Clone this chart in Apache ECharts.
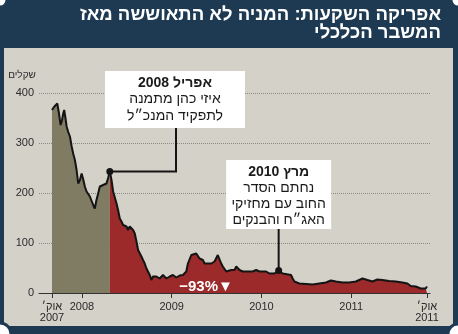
<!DOCTYPE html>
<html><head><meta charset="utf-8">
<script src="https://cdn.jsdelivr.net/npm/echarts@6/dist/echarts.min.js"></script>
<style>html,body{margin:0;padding:0;background:#fff}#c{width:458px;height:334px}</style>
</head><body><div id="c"></div>
<script>
// ---- data ----
const titleLines = ['אפריקה השקעות: המניה לא התאוששה מאז', 'המשבר הכלכלי'];
const unitLabel = 'שקלים';
const changeLabel = '−93%▼';
const dates = [
  2007.667,2007.689,2007.711,2007.726,2007.744,2007.763,2007.778,2007.792,2007.803,2007.817,
  2007.830,2007.848,2007.867,2007.886,2007.903,2007.922,2007.941,2007.959,2007.978,2007.997,
  2008.014,2008.033,2008.052,2008.070,2008.089,2008.103,2008.126,2008.144,2008.161,2008.181,
  2008.200,2008.214,2008.237,2008.256,2008.274,2008.292,2008.311,
  2008.330,2008.348,2008.367,2008.386,2008.403,2008.422,2008.441,2008.459,2008.478,2008.497,
  2008.514,2008.533,2008.552,2008.570,2008.589,2008.608,2008.626,2008.644,2008.663,2008.681,
  2008.700,2008.719,2008.737,2008.756,2008.774,2008.792,2008.811,2008.830,2008.867,2008.903,
  2008.941,2008.978,2009.014,2009.052,2009.089,2009.126,2009.163,2009.181,2009.200,2009.219,
  2009.237,2009.274,2009.292,2009.311,2009.330,2009.348,2009.367,2009.386,2009.403,2009.422,
  2009.441,2009.478,2009.514,2009.533,2009.552,2009.570,2009.608,2009.626,2009.663,2009.700,
  2009.719,2009.737,2009.756,2009.792,2009.830,2009.903,2009.941,2009.978,2010.014,2010.052,
  2010.089,2010.144,2010.192,2010.237,2010.330,2010.348,2010.367,2010.422,2010.497,2010.570,
  2010.644,2010.719,2010.774,2010.830,2010.903,2010.978,2011.052,2011.126,2011.181,2011.237,
  2011.292,2011.348,2011.422,2011.497,2011.570,2011.626,2011.663,2011.719,2011.774,2011.830,
  2011.844
];
const prices = [
  366,372,376,379,360,336,345,359,366,350,
  333,322,313,293,279,266,246,219,226,239,
  228,213,203,200,193,189,176,169,185,199,
  213,216,216,212,219,230,243,
  226,203,199,179,166,149,143,136,139,133,
  126,133,136,126,119,103,86,86,73,66,
  59,49,46,36,26,33,36,33,29,36,
  29,33,36,31,35,36,43,59,63,76,
  79,79,76,69,66,66,59,63,59,56,
  59,63,76,73,59,53,43,39,46,46,
  53,49,46,43,43,43,46,43,43,43,
  39,39,45,39,36,29,23,19,18,17,
  19,21,25,23,21,21,23,29,26,23,
  27,26,24,23,21,19,14,13,9,9,
  13
];
const splitDate = 2008.311;
const eventDates = [2008.311, 2010.192];
const eventTitles = ['אפריל 2008', 'מרץ 2010'];
const eventLines = [['איזי כהן מתמנה', 'לתפקיד המנכ״ל'], ['נחתם הסדר', 'החוב עם מחזיקי', 'האג״ח והבנקים']];
const tickValues = [2007.667, 2008, 2009, 2010, 2011, 2011.844];
const tickLabels = ['אוק׳\n2007', '2008', '2009', '2010', '2011', 'אוק׳\n2011'];
const yMin = 0, yMax = 400, yStep = 100;

// ---- build ----
const FONT = '"Liberation Sans","DejaVu Sans",sans-serif';
const NAVY = '#1e3a53', PANEL = '#d4d1c9', OLIVE = '#807b63', RED = '#9c2a2a';
const pre = [], post = [];
dates.forEach((d, i) => {
  if (d <= splitDate) pre.push([d, prices[i]]);
  if (d >= splitDate) post.push([d, prices[i]]);
});

const chart = echarts.init(document.getElementById('c'), null, {renderer: 'canvas'});
const option = {
  animation: false,
  backgroundColor: '#fff',
  grid: {left: 39, right: 28, top: 93, bottom: 41},
  xAxis: {
    type: 'value', min: 2007.5222, max: 2011.8778,
    axisLine: {show: true, onZero: false, lineStyle: {color: '#333', width: 1}},
    axisTick: {show: true, customValues: tickValues, length: 5, lineStyle: {color: '#333'}},
    axisLabel: {
      customValues: tickValues, margin: 8, color: '#2a2a2a', fontSize: 11, fontFamily: FONT, lineHeight: 11,
      formatter: v => { const k = tickValues.findIndex(t => Math.abs(t - v) < 1e-6); return k >= 0 ? tickLabels[k] : ''; }
    },
    splitLine: {show: false}
  },
  yAxis: {
    type: 'value', min: yMin, max: yMax, interval: yStep,
    axisLine: {show: false}, axisTick: {show: false},
    axisLabel: {margin: 5, color: '#2a2a2a', fontSize: 11, fontFamily: FONT},
    splitLine: {show: true, lineStyle: {color: '#8d8a83', type: [1, 1], width: 1}}
  },
  series: [
    {type: 'line', data: pre, showSymbol: false, z: 3,
     lineStyle: {color: '#141414', width: 2}, areaStyle: {color: OLIVE, opacity: 1}},
    {type: 'line', data: post, showSymbol: false, z: 3,
     lineStyle: {color: '#141414', width: 2}, areaStyle: {color: RED, opacity: 1},
     markPoint: {
       symbol: 'circle', symbolSize: 7, silent: true, label: {show: false},
       itemStyle: {color: '#141414'},
       data: eventDates.map(d => ({coord: [d, prices[dates.indexOf(d)]]}))
     }}
  ]
};
chart.setOption(option);

const els = [];
// frame
els.push({type: 'rect', z: -100, silent: true, shape: {x: 0, y: 0, width: 458, height: 334}, style: {fill: NAVY}});
els.push({type: 'rect', z: -99, silent: true, shape: {x: 4, y: 48, width: 449, height: 278}, style: {fill: PANEL}});
[[0, 0, 7], [458, 0, 7], [0, 334, 11], [458, 334, 10]].forEach(c => {
  els.push({type: 'circle', z: 50, silent: true, shape: {cx: c[0], cy: c[1], r: c[2]}, style: {fill: '#fff', stroke: NAVY, lineWidth: 3}});
});
// title
titleLines.forEach((t, i) => {
  els.push({type: 'text', z: 60, x: 441, y: 15 + i * 18, style: {text: t, fill: '#fff', font: 'bold 18.5px ' + FONT, align: 'right', verticalAlign: 'middle'}});
});
els.push({type: 'text', z: 60, x: 22, y: 75, style: {text: unitLabel, fill: '#2a2a2a', font: '10px ' + FONT, align: 'center', verticalAlign: 'middle'}});
els.push({type: 'text', z: 60, x: 206, y: 287, style: {text: changeLabel, fill: '#fff', font: 'bold 15px ' + FONT, align: 'center', verticalAlign: 'middle'}});

// annotations
const boxes = [
  {x: 105, y: 71, w: 140, h: 57, lh: 16.5},
  {w: 105, y: 160, h: 69, lh: 16}
];
eventDates.forEach((d, i) => {
  const p = chart.convertToPixel({gridIndex: 0}, [d, prices[dates.indexOf(d)]]);
  const b = boxes[i];
  const bx = (b.x !== undefined) ? b.x : p[0] - b.w / 2;
  const cx = bx + b.w / 2;
  const pts = (i === 0) ? [[cx + 1, b.y + b.h], [cx + 1, p[1]], [p[0], p[1]]] : [[p[0], b.y + b.h], [p[0], p[1]]];
  els.push({type: 'polyline', z: 40, silent: true, shape: {points: pts}, style: {stroke: '#141414', lineWidth: 2, fill: null}});
  els.push({type: 'rect', z: 41, silent: true, shape: {x: bx, y: b.y, width: b.w, height: b.h}, style: {fill: '#fff'}});
  const lines = [eventTitles[i]].concat(eventLines[i]);
  lines.forEach((t, k) => {
    els.push({type: 'text', z: 42, x: cx, y: b.y + 12 + k * b.lh,
      style: {text: t, fill: '#1a1a1a', font: (k === 0 ? 'bold ' : '') + '14px ' + FONT, align: 'center', verticalAlign: 'middle'}});
  });
});
chart.setOption({graphic: {elements: els}});
</script></body></html>
